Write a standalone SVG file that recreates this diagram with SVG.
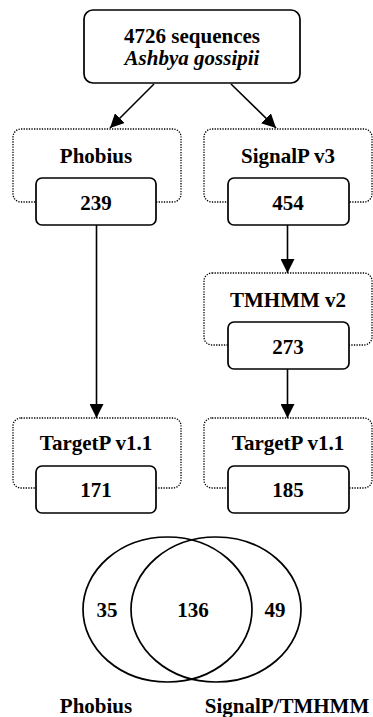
<svg xmlns="http://www.w3.org/2000/svg" width="373" height="717" viewBox="0 0 373 717">
<style>
text{font-family:"Liberation Serif","Times New Roman",serif;font-weight:bold;font-size:21px;text-anchor:middle;fill:#000}
.it{font-style:italic}
.solid{fill:#fff;stroke:#000;stroke-width:1.7}
.dot{fill:none;stroke:#000;stroke-width:1.3;stroke-dasharray:1.3,1.3}
.con{fill:none;stroke:#000;stroke-width:1.6}
.ven{fill:none;stroke:#000;stroke-width:1.7}
</style>
<defs>
<marker id="ah" viewBox="0 0 14 14" refX="14" refY="7" markerWidth="14" markerHeight="14" markerUnits="userSpaceOnUse" orient="auto">
<path d="M0,0 L14,7 L0,14 Z" fill="#000"/>
</marker>
</defs>
<g id="connectors">
<line class="con" x1="154" y1="84" x2="110" y2="128" marker-end="url(#ah)"/>
<line class="con" x1="231" y1="84" x2="276" y2="128" marker-end="url(#ah)"/>
<line class="con" x1="96.5" y1="225" x2="96.5" y2="418" marker-end="url(#ah)"/>
<line class="con" x1="287.5" y1="225" x2="287.5" y2="273" marker-end="url(#ah)"/>
<line class="con" x1="287.5" y1="369" x2="287.5" y2="418" marker-end="url(#ah)"/>
</g>
<g id="source">
<rect class="solid" x="84" y="10" width="216" height="73" rx="9"/>
<text x="192" y="43">4726 sequences</text>
<text class="it" x="192" y="65">Ashbya gossipii</text>
</g>
<g id="phobius">
<rect class="dot" x="13" y="129" width="168" height="73" rx="8"/>
<text x="96" y="163">Phobius</text>
<rect class="solid" x="36" y="178" width="120" height="47" rx="6"/>
<text x="96" y="210">239</text>
</g>
<g id="signalp">
<rect class="dot" x="204" y="129" width="168" height="73" rx="8"/>
<text x="288" y="163">SignalP v3</text>
<rect class="solid" x="228" y="178" width="121" height="47" rx="6"/>
<text x="288" y="210">454</text>
</g>
<g id="tmhmm">
<rect class="dot" x="204" y="273" width="168" height="72" rx="8"/>
<text x="288" y="307">TMHMM v2</text>
<rect class="solid" x="228" y="322" width="121" height="47" rx="6"/>
<text x="288" y="354">273</text>
</g>
<g id="targetp-left">
<rect class="dot" x="13" y="418" width="168" height="70" rx="8"/>
<text x="96" y="450">TargetP v1.1</text>
<rect class="solid" x="36" y="466" width="120" height="47" rx="6"/>
<text x="96" y="497">171</text>
</g>
<g id="targetp-right">
<rect class="dot" x="204" y="418" width="168" height="70" rx="8"/>
<text x="288" y="450">TargetP v1.1</text>
<rect class="solid" x="228" y="466" width="121" height="47" rx="6"/>
<text x="288" y="497">185</text>
</g>
<g id="venn">
<ellipse class="ven" cx="167.5" cy="609.5" rx="84.5" ry="72.5"/>
<ellipse class="ven" cx="216" cy="609.5" rx="85" ry="72.5"/>
<text x="107" y="617">35</text>
<text x="193" y="617">136</text>
<text x="275" y="617">49</text>
<text x="96" y="713">Phobius</text>
<text x="287" y="713">SignalP/TMHMM</text>
</g>
</svg>
